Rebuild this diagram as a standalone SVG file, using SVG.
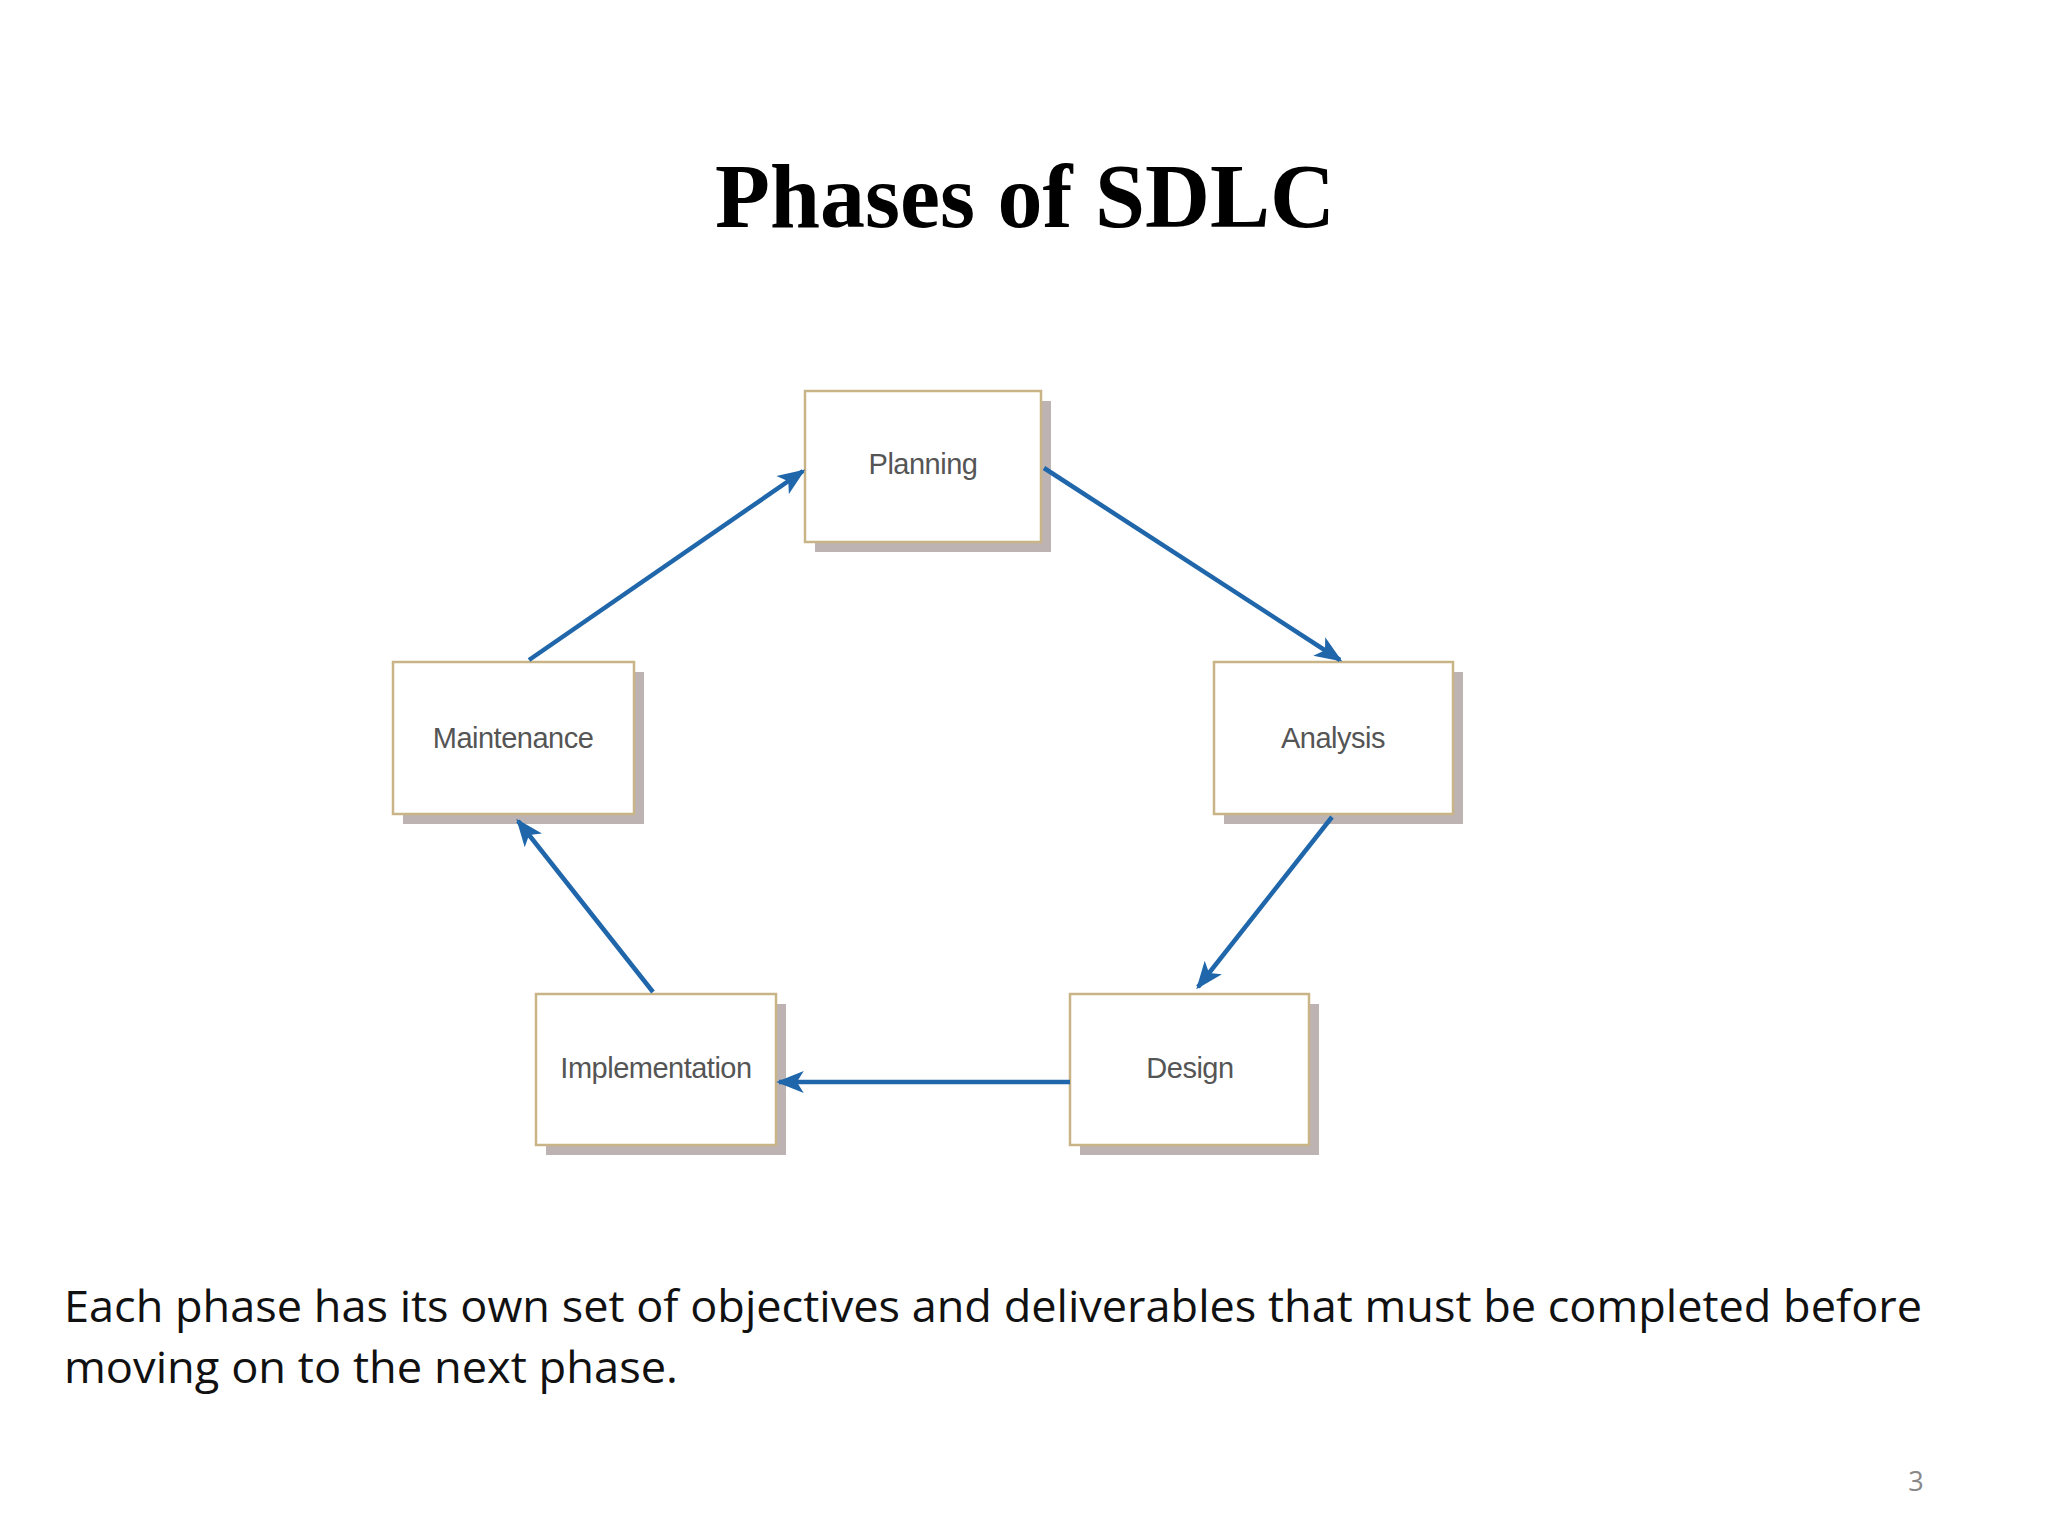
<svg xmlns="http://www.w3.org/2000/svg" width="2048" height="1536" viewBox="0 0 2048 1536">
<defs>
<marker id="ah" markerWidth="30" markerHeight="22" refX="9" refY="4" orient="auto" markerUnits="userSpaceOnUse" viewBox="0 0 10 8">
<path d="M0,0 L10,4 L0,8 L2.5,4 Z" fill="#1f66aa"/>
</marker>
<style>
.sh{fill:#bdb3b3}
.bx{fill:#fff;stroke:#c9b487;stroke-width:2.5}
.lb{font-family:"Liberation Sans",Arial,sans-serif;font-size:29px;fill:#555;text-anchor:middle;letter-spacing:-0.5px}
.cn{stroke:#1f66aa;stroke-width:4.5;fill:none}
</style>
</defs>
<rect width="2048" height="1536" fill="#fff"/>
<g transform="translate(-9,0)">
<text x="1034" y="227" font-family="Liberation Serif,serif" font-weight="bold" font-size="90" text-anchor="middle">Phases of SDLC</text>
<g id="planning"><rect class="sh" x="824" y="401" width="236" height="151"/><rect class="bx" x="814" y="391" width="236" height="151"/><text class="lb" x="932" y="474">Planning</text></g>
<g id="analysis"><rect class="sh" x="1233" y="672" width="239" height="152"/><rect class="bx" x="1223" y="662" width="239" height="152"/><text class="lb" x="1342" y="748">Analysis</text></g>
<g id="design"><rect class="sh" x="1089" y="1004" width="239" height="151"/><rect class="bx" x="1079" y="994" width="239" height="151"/><text class="lb" x="1199" y="1078">Design</text></g>
<g id="implementation"><rect class="sh" x="555" y="1004" width="240" height="151"/><rect class="bx" x="545" y="994" width="240" height="151"/><text class="lb" x="665" y="1078">Implementation</text></g>
<g id="maintenance"><rect class="sh" x="412" y="672" width="241" height="152"/><rect class="bx" x="402" y="662" width="241" height="152"/><text class="lb" x="522" y="748">Maintenance</text></g>
<g id="connectors">
<line class="cn" x1="538" y1="660" x2="812" y2="471" marker-end="url(#ah)"/>
<line class="cn" x1="1053" y1="468" x2="1349" y2="660" marker-end="url(#ah)"/>
<line class="cn" x1="1341" y1="817" x2="1207" y2="987" marker-end="url(#ah)"/>
<line class="cn" x1="1079" y1="1082" x2="788" y2="1082" marker-end="url(#ah)"/>
<line class="cn" x1="662" y1="992" x2="527" y2="821" marker-end="url(#ah)"/>
</g>
<g font-family="Open Sans,sans-serif" font-size="43" fill="#111">
<text x="73" y="1322" textLength="1858" lengthAdjust="spacingAndGlyphs">Each phase has its own set of objectives and deliverables that must be completed before</text>
<text x="73" y="1383" textLength="614" lengthAdjust="spacingAndGlyphs">moving on to the next phase.</text>
</g>
<text x="1925" y="1491" font-family="Open Sans,sans-serif" font-size="27" fill="#888" text-anchor="middle">3</text>
</g>
</svg>
